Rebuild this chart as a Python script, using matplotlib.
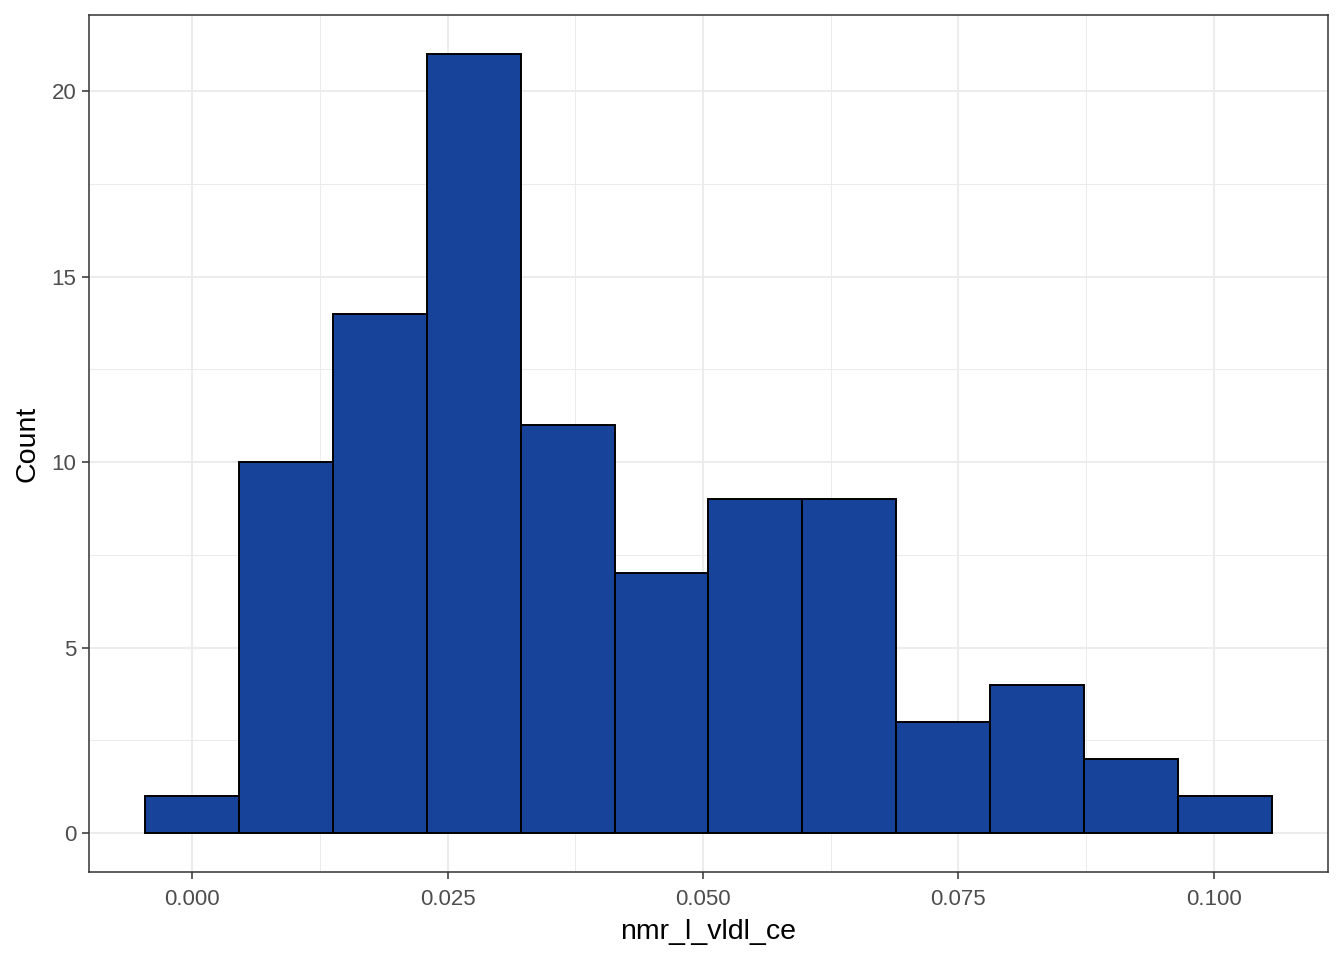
import numpy as np
import matplotlib.pyplot as plt
from matplotlib.ticker import MultipleLocator

plt.rcParams['font.family'] = ['Liberation Sans', 'DejaVu Sans']

# histogram of nmr_l_vldl_ce (bins centred on 0, width ~0.00919)
binwidth = 0.00919
first_center = 0.0
counts = [1, 10, 14, 21, 11, 7, 9, 9, 3, 4, 2, 1]

centers = first_center + binwidth * np.arange(len(counts))
edges_lo = centers - binwidth / 2

fig = plt.figure(figsize=(13.44, 9.6), dpi=100)
ax = fig.add_axes([0.0662, 0.0917, 0.9219, 0.8927])

ax.bar(edges_lo, counts, width=binwidth, align='edge',
       color='#17449A', edgecolor='black', linewidth=1.4, zorder=3)

# ggplot-style expansion (5%)
x0, x1 = edges_lo[0], edges_lo[-1] + binwidth
xr = x1 - x0
ax.set_xlim(x0 - 0.05 * xr, x1 + 0.05 * xr)
ymax = max(counts)
ax.set_ylim(-0.05 * ymax, ymax * 1.05)

ax.xaxis.set_major_locator(MultipleLocator(0.025))
ax.xaxis.set_minor_locator(MultipleLocator(0.0125))
ax.yaxis.set_major_locator(MultipleLocator(5))
ax.yaxis.set_minor_locator(MultipleLocator(2.5))
ax.xaxis.set_major_formatter(lambda v, p: f"{v:.3f}")
ax.yaxis.set_major_formatter(lambda v, p: f"{v:.0f}")

ax.grid(True, which='major', color='#EBEBEB', linewidth=1.3, zorder=0)
ax.grid(True, which='minor', color='#EBEBEB', linewidth=0.7, zorder=0)
ax.set_axisbelow(True)

for s in ax.spines.values():
    s.set_color('#333333')
    s.set_linewidth(1.1)

ax.tick_params(which='major', length=5, width=1.1, color='#333333',
               labelsize=16, labelcolor='#4D4D4D', pad=4)
ax.tick_params(axis='x', which='major', pad=7.5)
ax.tick_params(which='minor', length=0)

ax.set_xlabel('nmr_l_vldl_ce', fontsize=20.5, color='black', labelpad=6)
ax.set_ylabel('Count', fontsize=20.5, color='black', labelpad=8)

fig.savefig('out.png', dpi=100, facecolor='white')
